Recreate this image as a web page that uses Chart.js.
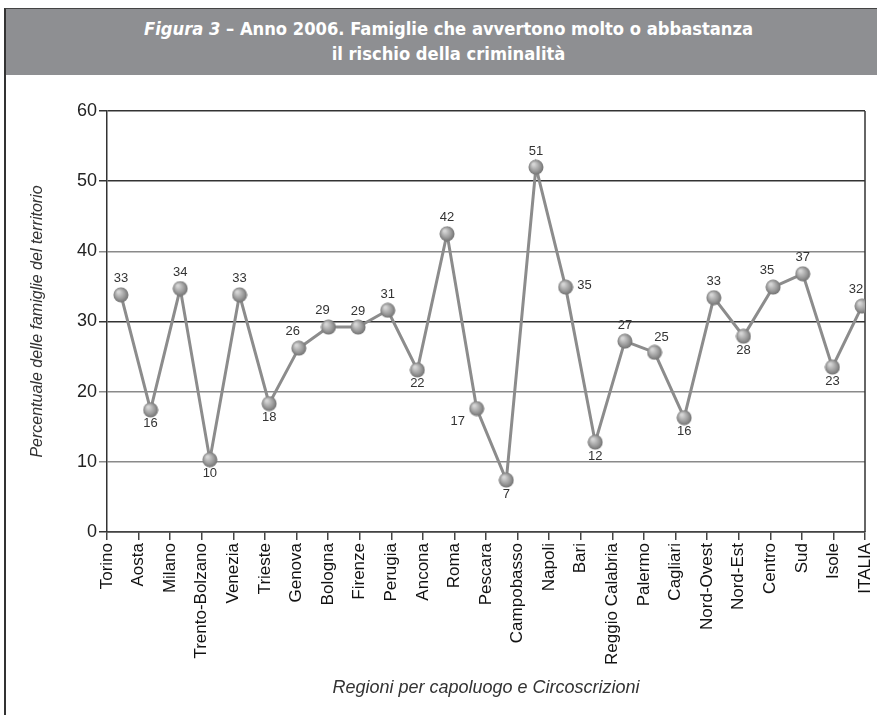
<!DOCTYPE html>
<html lang="it">
<head>
<meta charset="utf-8">
<title>Figura 3</title>
<script src="https://cdn.jsdelivr.net/npm/chart.js@4.4.1/dist/chart.umd.min.js"></script>
<style>
html, body { margin: 0; padding: 0; background: #fff; width: 877px; height: 715px; overflow: hidden; }
#cornice { position: absolute; left: 4px; top: 8px; width: 873px; height: 707px; border-left: 2px solid #333; border-top: 1px solid #444; }
#testata { height: 59px; padding-top: 7px; padding-left: 12px; background: #8e8f92; color: #fff; text-align: center;
  font-family: 'DejaVu Sans Condensed', 'Liberation Sans', sans-serif; font-weight: bold; font-size: 18.2px; line-height: 25px; }
#testata em { font-weight: bold; }
#box { position: absolute; left: 6px; top: 75px; width: 871px; height: 640px; }
</style>
</head>
<body>
<div id="cornice">
  <div id="testata"><em>Figura 3</em> – Anno 2006. Famiglie che avvertono molto o abbastanza<br>il rischio della criminalità</div>
</div>
<div id="box"><canvas id="grafico"></canvas></div>

<script>
// etichette dell'asse x
const categorie = ['Torino', 'Aosta', 'Milano', 'Trento-Bolzano', 'Venezia', 'Trieste', 'Genova', 'Bologna',
    'Firenze', 'Perugia', 'Ancona', 'Roma', 'Pescara', 'Campobasso', 'Napoli', 'Bari', 'Reggio Calabria',
    'Palermo', 'Cagliari', 'Nord-Ovest', 'Nord-Est', 'Centro', 'Sud', 'Isole', 'ITALIA'];

const valori = [33.8, 17.4, 34.7, 10.3, 33.8, 18.3, 26.2, 29.2, 29.2, 31.6, 23.1, 42.5, 17.6,
    7.4, 52.0, 34.9, 12.8, 27.2, 25.6, 16.3, 33.4, 27.9, 34.9, 36.8, 23.5, 32.2];

// valori stampati accanto ai punti
const etichetteValori = [33, 16, 34, 10, 33, 18, 26, 29, 29, 31, 22, 42, 17,
    7, 51, 35, 12, 27, 25, 16, 33, 28, 35, 37, 23, 32];

// dove mettere l'etichetta: t = sopra, b = sotto, l = sinistra, r = destra
const posizioni = ['t', 'b', 't', 'b', 't', 'b', 'tl', 'tl', 't', 't', 'b', 't', 'l',
    'b', 't', 'r', 'b', 't', 'tr', 'b', 't', 'b', 'tl', 't', 'b', 'tl'];

const tickY = [0, 10, 20, 30, 40, 50, 60];

const spostamenti = {
    t: [0, -16], b: [0, 14], l: [-19, 13], r: [19, -2], tl: [-6, -17], tr: [7, -15]
};

// pallino grigio sfumato usato come pointStyle
const pallino = (() => {
    const c = document.createElement('canvas');
    c.width = 16; c.height = 16;
    const g = c.getContext('2d');
    const grad = g.createRadialGradient(5.5, 5, 1, 8, 8, 8);
    grad.addColorStop(0, '#d6d6d6');
    grad.addColorStop(0.6, '#9a9a9a');
    grad.addColorStop(1, '#6c6c6c');
    g.fillStyle = grad;
    g.beginPath();
    g.arc(8, 8, 7.5, 0, Math.PI * 2);
    g.fill();
    return c;
})();

// disegna i valori accanto ai punti
const etichettePlugin = {
    id: 'etichette',
    afterDatasetsDraw(chart) {
        const ctx = chart.ctx;
        const meta = chart.getDatasetMeta(0);
        ctx.save();
        ctx.font = '13px "Liberation Sans", Arial, sans-serif';
        ctx.fillStyle = '#333';
        ctx.textAlign = 'center';
        ctx.textBaseline = 'middle';
        meta.data.forEach((pt, i) => {
            const d = spostamenti[posizioni[i]];
            ctx.fillText(String(etichetteValori[i]), pt.x + d[0], pt.y + d[1]);
        });
        ctx.restore();
    }
};

// bordo destro dell'area del grafico
const bordoPlugin = {
    id: 'bordo',
    beforeDatasetsDraw(chart) {
        const a = chart.chartArea;
        const ctx = chart.ctx;
        ctx.save();
        ctx.strokeStyle = '#333';
        ctx.lineWidth = 1.5;
        ctx.beginPath();
        ctx.moveTo(a.right, a.top);
        ctx.lineTo(a.right, a.bottom);
        ctx.stroke();
        ctx.restore();
    }
};

const coloreGriglia = {50: '#333', 30: '#333', 60: '#333', 0: '#333'};

new Chart(document.getElementById('grafico'), {
    type: 'line',
    data: {
        labels: categorie,
        datasets: [{
            data: valori.map((v, i) => ({x: i, y: v})),
            xAxisID: 'xp',
            borderColor: '#8c8c8c',
            borderWidth: 3,
            tension: 0,
            pointStyle: pallino,
            pointRadius: 8,
            pointHoverRadius: 8
        }]
    },
    options: {
        responsive: true,
        maintainAspectRatio: false,
        animation: false,
        layout: {padding: {left: 0, top: 36, right: 12, bottom: 0}},
        plugins: {legend: {display: false}, tooltip: {enabled: false}},
        scales: {
            x: {
                type: 'category',
                offset: false,
                grid: {drawOnChartArea: false, tickLength: 8, color: '#444', lineWidth: 1.5},
                border: {color: '#444', width: 1.5},
                ticks: {
                    autoSkip: false, maxRotation: 90, minRotation: 90, padding: 3,
                    color: '#111', font: {family: '"Liberation Sans", Arial, sans-serif', size: 17}
                },
                title: {
                    display: true,
                    text: 'Regioni per capoluogo e Circoscrizioni',
                    color: '#333',
                    font: {family: '"Liberation Sans", sans-serif', style: 'italic', size: 18},
                    padding: {top: 0, bottom: 16}
                },
                afterFit(scale) {
                    scale.height = 183;
                    scale.paddingLeft = 0;
                    scale.paddingRight = 0;
                }
            },
            xp: {
                type: 'linear',
                display: false,
                min: -0.47,
                max: 25.1
            },
            y: {
                min: 0,
                max: 60,
                afterBuildTicks(scale) { scale.ticks = tickY.map(v => ({value: v})); },
                grid: {
                    tickLength: 8,
                    lineWidth: 1.5,
                    color: (c) => coloreGriglia[c.tick && c.tick.value] || '#8a8a8a'
                },
                border: {color: '#333', width: 1.5},
                ticks: {
                    padding: 2, color: '#222',
                    font: {family: '"Liberation Sans", Arial, sans-serif', size: 18}
                },
                title: {
                    display: true,
                    text: 'Percentuale delle famiglie del territorio',
                    color: '#333',
                    font: {family: '"Liberation Sans", Arial, sans-serif', style: 'italic', size: 16},
                    padding: {top: 22, bottom: 0}
                },
                afterFit(scale) { scale.width = 101; }
            }
        }
    },
    plugins: [bordoPlugin, etichettePlugin]
});
</script>
</body>
</html>
